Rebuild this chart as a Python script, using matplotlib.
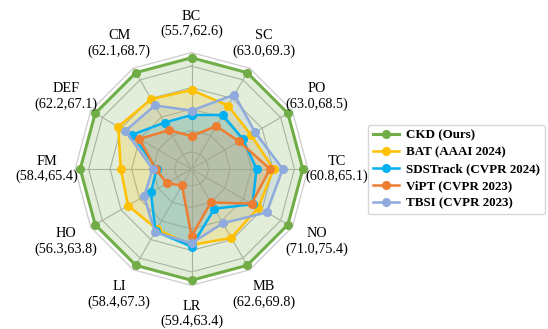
import numpy as np
import matplotlib
matplotlib.use('Agg')
import matplotlib.pyplot as plt

categories = ['BC', 'SC', 'PO', 'TC', 'NO', 'MB', 'LR', 'LI', 'HO', 'FM', 'DEF', 'CM']
ranges = ['(55.7,62.6)', '(63.0,69.3)', '(63.0,68.5)', '(60.8,65.1)', '(71.0,75.4)',
          '(62.6,69.8)', '(59.4,63.4)', '(58.4,67.3)', '(56.3,63.8)', '(58.4,65.4)',
          '(62.2,67.1)', '(62.1,68.7)']

# normalized scores (CKD = 100 on every axis)
ckd = [100, 100, 100, 100, 100, 100, 100, 100, 100, 100, 100, 100]
bat = [71.0, 65.8, 61.5, 73.7, 69.4, 71.5, 68.3, 62.5, 65.8, 63.6, 76.1, 72.4]
sdstrack = [48.5, 56.1, 53.4, 58.4, 63.3, 41.2, 69.8, 64.7, 42.2, 31.3, 61.6, 48.2]
vipt = [29.6, 44.5, 49.5, 70.5, 62.3, 34.7, 60.4, 17.1, 25.6, 32.3, 54.1, 40.3]
tbsi = [52.5, 77.1, 66.0, 82.0, 78.0, 56.3, 66.7, 65.6, 49.2, 35.0, 68.6, 66.0]

names = ['CKD (Ours)', 'BAT (AAAI 2024)', 'SDSTrack (CVPR 2024)', 'ViPT (CVPR 2023)', 'TBSI (CVPR 2023)']
series = [ckd, bat, sdstrack, vipt, tbsi]
colors = ['#70ad47', '#ffc000', '#00b0f0', '#ed7d31', '#8faadc']

rings = [15.3, 34.6, 53.9, 73.2, 92.5]
outer = 104.7

fig = plt.figure(figsize=(5.48, 3.29), dpi=100)
ax = fig.add_axes([0.1369, 0.1322, 0.4252, 0.7082], projection='polar')
ax.set_theta_zero_location('N')
ax.set_theta_direction(-1)
ax.set_xticks([])
ax.set_yticks([])
ax.grid(False)
ax.spines['polar'].set_visible(False)
ax.patch.set_alpha(0)
ax.set_ylim(0, outer)

n = len(categories)
angles = np.linspace(0, 2 * np.pi, n, endpoint=False)
closed = np.concatenate([angles, angles[:1]])

for r in rings:
    ax.plot(closed, [r] * (n + 1), color='#b5b5b5', lw=0.8, zorder=1)
ax.plot(closed, [outer * 0.999] * (n + 1), color='#d0d0d0', lw=1.0, zorder=1, clip_on=False)
for a in angles:
    ax.plot([a, a], [0, outer], color='#b5b5b5', lw=0.8, zorder=1)

handles = []
for vals, c, name in zip(series, colors, names):
    v = list(vals) + [vals[0]]
    ax.fill(closed, v, color=c, alpha=0.2, zorder=2, lw=0)
for i, (vals, c, name) in enumerate(zip(series, colors, names)):
    v = list(vals) + [vals[0]]
    lw = 2.2 if i == 0 else 1.8
    h, = ax.plot(closed, v, color=c, lw=lw, marker='o', ms=5.5, zorder=3 + i, label=name)
    handles.append(h)

for a, cat, rng in zip(angles, categories, ranges):
    ax.text(a, 130.3, f"{cat}\n{rng}", ha='center', va='center', fontsize=10.3,
            family='Liberation Serif', linespacing=1.2)

fig.legend(handles=handles, loc='center left', bbox_to_anchor=(0.6715, 0.485),
           prop={'family': 'Liberation Serif', 'weight': 'bold', 'size': 9.4},
           frameon=True, edgecolor='#cccccc', fancybox=True, handlelength=2.0,
           handletextpad=0.6, labelspacing=0.38, borderpad=0.35, borderaxespad=0)

fig.savefig('out.png', dpi=100)
